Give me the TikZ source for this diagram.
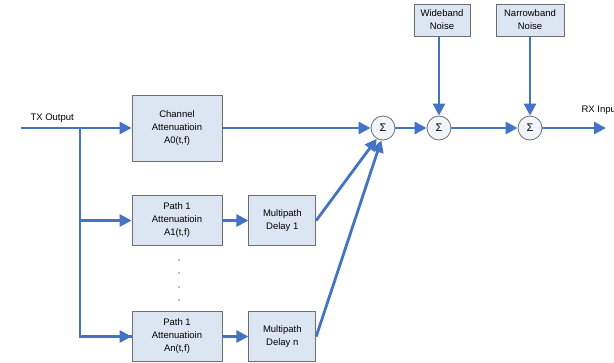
\documentclass[tikz,border=0pt]{standalone}
\usepackage{fontspec}
\setmainfont{Liberation Sans}
\usepackage{tikz}
\usetikzlibrary{arrows.meta, positioning}
\usepackage{xcolor}
\definecolor{wire}{RGB}{68,114,196}
\definecolor{boxfill}{RGB}{220,230,242}
\definecolor{boxline}{RGB}{110,110,110}

\begin{document}
\begin{tikzpicture}[x=1pt,y=-1pt,
block/.style={rectangle,draw=boxline,fill=boxfill,line width=0.8pt,align=center,
    font=\fontsize{9.5}{13}\selectfont,inner sep=0pt},
att/.style={block,minimum width=90pt,minimum height=50pt},
dly/.style={block,minimum width=67pt,minimum height=50pt},
sum/.style={circle,draw=boxline,fill=boxfill!40,line width=0.8pt,minimum size=24pt,inner sep=0pt,
    font=\fontsize{11}{12}\selectfont},
wire/.style={draw=wire,line width=2.8pt},
arr/.style={wire,-{Triangle[length=12pt,width=12pt]}},
lbl/.style={font=\fontsize{9.5}{12}\selectfont}
]
\clip (0,0) rectangle (614,362);

% main path
\node[att,minimum height=66pt] (chan) at (177,128) {Channel\\Attenuatioin\\A0(t,f)};
\node[sum] (s1) at (383,128) {Σ};
\node[sum] (s2) at (439,128) {Σ};
\node[sum] (s3) at (530,128) {Σ};

% multipath branches
\node[att] (att1) at (177,220.5) {Path 1\\Attenuatioin\\A1(t,f)};
\node[dly,right=26pt of att1] (del1) {Multipath\\Delay 1};
\node[att] (attn) at (177,336.5) {Path 1\\Attenuatioin\\An(t,f)};
\node[dly,right=26pt of attn] (deln) {Multipath\\Delay n};

% noise sources
\node[block,minimum width=56pt,minimum height=32pt] (wide) at (442,20) {Wideband\\Noise};
\node[block,minimum width=68pt,minimum height=32pt] (narrow) at (530,20) {Narrowband\\Noise};

\coordinate (tx) at (21,128);
\coordinate (split) at (80,128);
\coordinate (rx) at (606,128);

\node[lbl,anchor=south west] (txlbl) at (27,126) {TX Output};
\node[lbl,anchor=south west] (rxlbl) at (578,118) {RX Input};

\draw[wire] (tx) -- (split);
\draw[arr] (split) -- (chan.west);
\draw[wire] (split) |- (attn.west);
\draw[arr] (80,336.5) -- (attn.west);
\draw[arr] (80,220.5) -- (att1.west);
\draw[arr] (att1) -- (del1);
\draw[arr] (attn) -- (deln);
\draw[arr] (chan.east) -- (s1.west);
\draw[arr] (del1.east) -- (s1.240);
\draw[arr] (deln.east) -- (s1.262);
\draw[arr] (s1) -- (s2);
\draw[arr] (s2) -- (s3);
\draw[arr] (s3) -- (rx);
\draw[arr] (wide.south -| s2) -- (s2.north);
\draw[arr] (narrow) -- (s3);

% dots between the paths
\foreach \y in {260,273,287,300}
  \fill (179,\y) circle (0.7pt);
\end{tikzpicture}
\end{document}
